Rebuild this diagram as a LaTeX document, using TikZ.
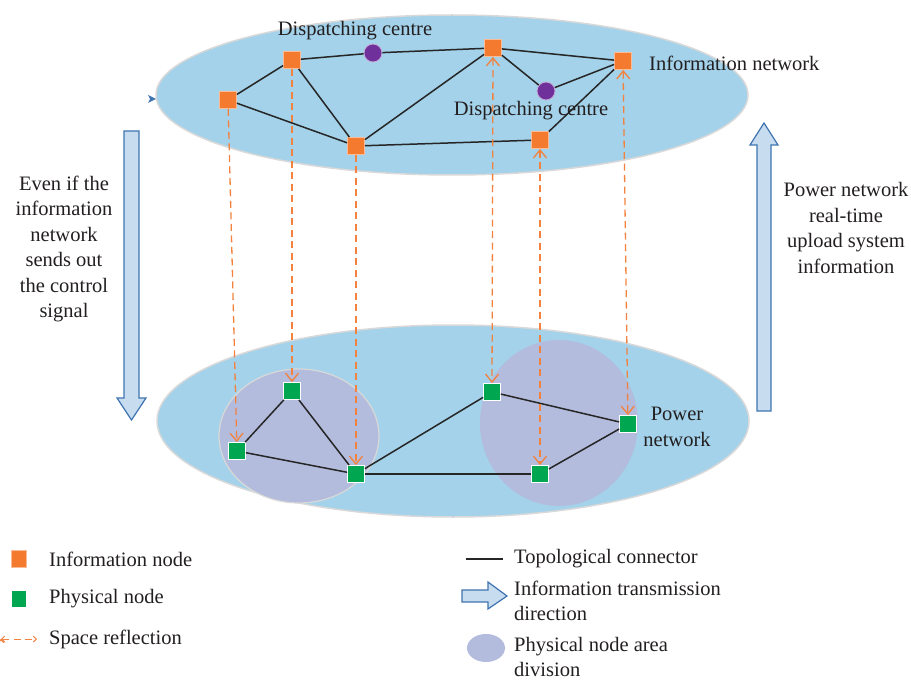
\documentclass[tikz,border=0pt]{standalone}
\usepackage{fontspec}
\setmainfont{Liberation Serif}
\usetikzlibrary{arrows.meta,positioning}
\definecolor{netblue}{HTML}{A3D2EA}
\definecolor{areablue}{HTML}{B3BCDD}
\definecolor{infoorange}{HTML}{F47A2F}
\definecolor{physgreen}{HTML}{00A650}
\definecolor{disppurple}{HTML}{70309C}
\definecolor{reflorange}{HTML}{F2823E}
\definecolor{arrowfill}{HTML}{C7DCEF}
\definecolor{arrowline}{HTML}{3F74B0}
\definecolor{txtgray}{HTML}{231F20}

\begin{document}
\begin{tikzpicture} [x=1pt, y=-1pt,
  font=\fontsize{20.5}{25.5}\selectfont, text=txtgray,
  info/.style={fill=infoorange, draw=infoorange!50!white, line width=0.8pt, minimum size=17pt, inner sep=0pt},
  phys/.style={fill=physgreen, draw=white, line width=0.8pt, minimum size=17pt, inner sep=0pt},
  disp/.style={circle, fill=disppurple, draw=disppurple!40!white, line width=0.8pt, minimum size=18pt, inner sep=0pt},
  lbl/.style={inner sep=1pt},
  topo/.style={draw=black!85, line width=1.5pt},
  refl/.style={draw=reflorange, line width=1.3pt, dash pattern=on 7pt off 4.5pt, >={Straight Barb[length=8pt,width=13pt]}},
  bigarrow/.style={fill=arrowfill, draw=arrowline, line width=1.2pt, line join=miter}
]
  \useasboundingbox (0,0) rectangle (911,682);

  % the two layers
  \draw[fill=netblue, draw=black!15, line width=1.5pt] (452,95) ellipse [x radius=296, y radius=80];
  \draw[fill=netblue, draw=black!15, line width=1.5pt] (453,421) ellipse [x radius=296, y radius=96];
  \fill[arrowline] (156,99) -- (148,95) -- (150,99) -- (148,103) -- cycle;

  % area division
  \draw[fill=areablue, draw=black!15, line width=1.2pt] (299,436) ellipse [x radius=80, y radius=67];
  \fill[areablue] (559,423) ellipse [x radius=79, y radius=83];

  % information network
  \node[info] (i1) at (228,100) {};
  \node[info] (i2) at (292,60) {};
  \node[info] (i3) at (356,146) {};
  \node[info] (i4) at (493,48) {};
  \node[info] (i5) at (623,61) {};
  \node[info] (i6) at (540,140) {};
  \node[disp] (p1) at (373,53) {};
  \node[disp] (p2) at (546,91) {};

  % physical network
  \node[phys] (g1) at (237,451) {};
  \node[phys] (g2) at (292,391) {};
  \node[phys] (g3) at (356,474) {};
  \node[phys] (g4) at (492,392) {};
  \node[phys] (g5) at (540,474) {};
  \node[phys] (g6) at (628,424) {};

  \path[topo]
  (i1) edge (i2)
  (i1) edge (i3)
  (i2) edge (i3)
  (i2) edge (p1)
  (p1) edge (i4)
  (i4) edge (i3)
  (i4) edge (p2)
  (p2) edge (i5)
  (i4) edge (i5)
  (i3) edge (i6)
  (i6) edge (i5)
  (g1) edge (g2)
  (g1) edge (g3)
  (g2) edge (g3)
  (g3) edge (g4)
  (g3) edge (g5)
  (g4) edge (g6)
  (g5) edge (g6)
  ;

  \path[refl,->]
  (i1) edge (g1)
  (i2) edge (g2)
  (i3) edge (g3)
  ;
  \path[refl,<->]
  (i4) edge (g4)
  (i6) edge (g5)
  (i5) edge (g6)
  ;

  \node[lbl] (dc1) at (355,31) {Dispatching centre};
  \node[lbl] (dc2) at (531,111) {Dispatching centre};
  \node[lbl, anchor=west] (infonet) at (648,63) {Information network};
  \node[lbl, align=center] (pownet) at (677,427) {Power\\network};

  % transmission direction
  \draw[bigarrow] (124,131) -- (139,131) -- (139,398) -- (146,398) -- (131.5,420) -- (117,398) -- (124,398) -- cycle;
  \draw[bigarrow] (757,411) -- (771,411) -- (771,145) -- (778,145) -- (764,123) -- (750,145) -- (757,145) -- cycle;
  \node[lbl, align=center] (ctrltxt) at (64,249) {Even if the\\information\\network\\sends out\\the control\\signal};
  \node[lbl, align=center] (uptxt) at (846,228) {Power network\\real-time\\upload system\\information};

  % legend
  \node[info, minimum width=15pt, minimum height=17pt] (linfo) at (19,559) {};
  \node[lbl, anchor=west] (linfotxt) at (48,559) {Information node};
  \node[phys, minimum width=15pt, minimum height=17pt] (lphys) at (19,599) {};
  \node[lbl, anchor=west] (lphystxt) at (48,599) {Physical node};
  \coordinate (lr1) at (1,639);
  \coordinate (lr2) at (37,639);
  \path[refl, <->, line width=1pt, >={Straight Barb[length=3pt,width=6pt]}] (lr1) edge (lr2);
  \node[lbl, anchor=west] (lrefltxt) at (48,639) {Space reflection};

  \coordinate (lt1) at (466,559);
  \coordinate (lt2) at (503,559);
  \path[topo] (lt1) edge (lt2);
  \node[lbl, anchor=west] (ltopotxt) at (513,559) {Topological connector};
  \draw[bigarrow] (462,590) -- (488,590) -- (488,582) -- (507,596) -- (488,609) -- (488,602) -- (462,602) -- cycle;
  \node[lbl, anchor=west, align=left] (ldirtxt) at (513,601) {Information transmission\\direction};
  \fill[areablue] (486,648) ellipse [x radius=19, y radius=14];
  \node[lbl, anchor=west, align=left] (lareatxt) at (513,657) {Physical node area\\division};
\end{tikzpicture}
\end{document}
